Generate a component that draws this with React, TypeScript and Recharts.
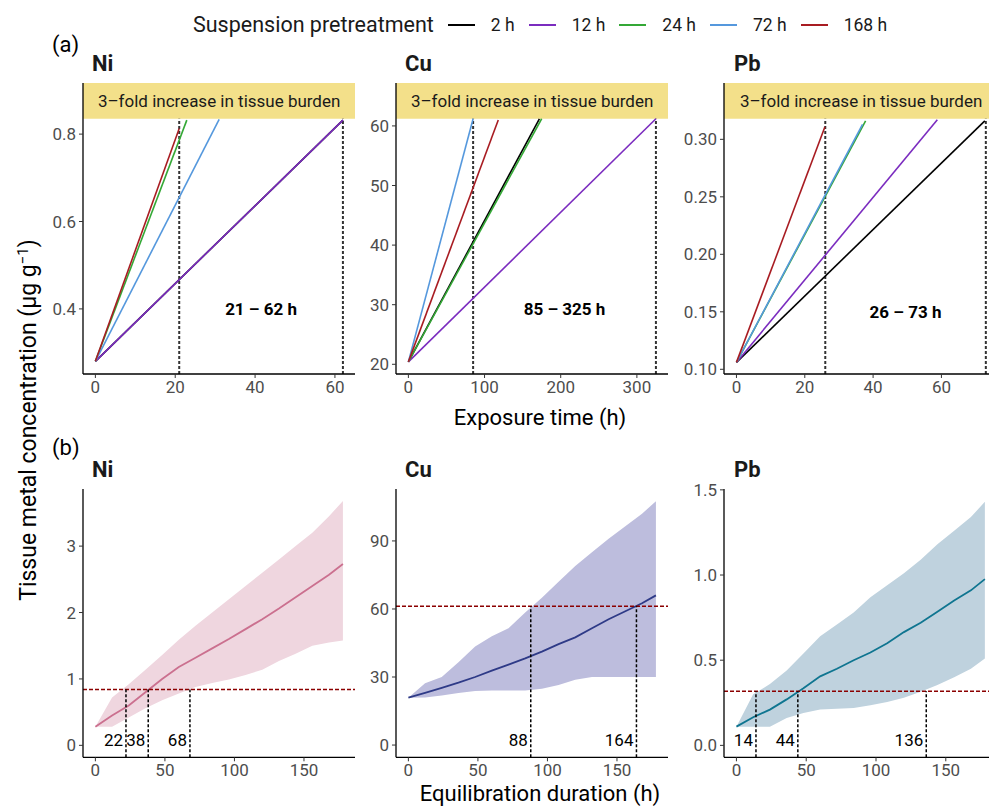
import React from 'react';
import { ComposedChart, Line, Area, XAxis, YAxis, ReferenceLine, ReferenceArea, ReferenceDot } from 'recharts';

const pretreatments = ['2 h', '12 h', '24 h', '72 h', '168 h'];
const pretreatmentColors = ['#000000', '#7B2CBF', '#34A836', '#5598DD', '#A81C22'];

// (a) exposure time to reach a 3-fold tissue burden, per pretreatment
const niStart = 0.28;
const niEndTime = [62, 62, 22.9, 31, 21];
const niEndConc = [0.832, 0.832, 0.832, 0.834, 0.813];
const niRange = [21, 62];

const cuStart = 20.4;
const cuEndTime = [172, 325, 175, 85, 118];
const cuEndConc = [61.2, 61.2, 61.2, 61.2, 61.0];
const cuRange = [85, 325];

const pbStart = 0.106;
const pbEndTime = [72.7, 58.8, 37.8, 36.9, 25.9];
const pbEndConc = [0.316, 0.317, 0.316, 0.313, 0.311];
const pbRange = [26, 73];

// 3-fold thresholds
const niThreshold = 0.835;
const cuThreshold = 61.2;
const pbThreshold = 0.318;

// (b) equilibration duration simulations
const equilTime = [0, 12, 24, 36, 48, 60, 72, 84, 96, 108, 120, 132, 144, 156, 168, 178];

const niMean = [0.28, 0.45, 0.6, 0.8, 1.0, 1.18, 1.32, 1.46, 1.6, 1.75, 1.9, 2.06, 2.23, 2.4, 2.57, 2.73];
const niLower = [0.28, 0.28, 0.42, 0.56, 0.68, 0.78, 0.88, 0.94, 0.99, 1.06, 1.14, 1.27, 1.38, 1.5, 1.55, 1.58];
const niUpper = [0.28, 0.72, 0.92, 1.14, 1.36, 1.59, 1.8, 2.0, 2.2, 2.4, 2.6, 2.8, 3.0, 3.2, 3.45, 3.68];
const niCross = [22, 38, 68];

const cuMean = [20.9, 23.0, 25.2, 27.5, 30.0, 32.8, 35.5, 38.2, 41.2, 44.5, 47.5, 51.5, 55.5, 59.0, 62.5, 66.0];
const cuLower = [20.9, 21.0, 21.8, 23.0, 23.8, 24.0, 24.0, 24.0, 24.8, 26.5, 28.8, 30.0, 30.0, 30.0, 30.0, 30.0];
const cuUpper = [20.9, 27.2, 30.0, 36.5, 43.5, 48.0, 51.5, 58.5, 65.0, 72.0, 79.0, 85.0, 91.0, 96.5, 102.0, 107.5];
const cuCross = [88, 164];

const pbMean = [0.11, 0.165, 0.21, 0.27, 0.335, 0.405, 0.45, 0.5, 0.545, 0.6, 0.665, 0.72, 0.785, 0.85, 0.91, 0.976];
const pbLower = [0.11, 0.11, 0.11, 0.16, 0.19, 0.21, 0.215, 0.22, 0.235, 0.255, 0.28, 0.315, 0.355, 0.4, 0.45, 0.51];
const pbUpper = [0.11, 0.3, 0.36, 0.44, 0.54, 0.64, 0.71, 0.78, 0.87, 0.94, 1.01, 1.09, 1.18, 1.26, 1.34, 1.43];
const pbCross = [14, 44, 136];

const FONT = 'Roboto, sans-serif';
const Y_W = 60;
const X_H = 32;
const M_TOP = 12;
const tickStyle = { fill: '#4D4D4D', fontSize: 17, fontFamily: FONT };

const buildLines = (start: number, endTime: number[], endConc: number[]) =>
  endTime.map((t, i) => [
    { x: 0, y: start },
    { x: t, y: endConc[i] },
  ]);

const buildBand = (mean: number[], lower: number[], upper: number[]) =>
  equilTime.map((t, i) => ({ x: t, y: mean[i], band: [lower[i], upper[i]] }));

type PanelProps = {
  left: number;
  top: number;
  plotW: number;
  plotH: number;
  xDomain: [number, number];
  yDomain: [number, number];
  xTicks: number[];
  yTicks: number[];
  yFmt: (v: number) => string;
  data?: any[];
  children: React.ReactNode;
};

const Panel = ({ left, top, plotW, plotH, xDomain, yDomain, xTicks, yTicks, yFmt, data, children }: PanelProps) => (
  <div style={{ position: 'absolute', left: left - Y_W, top: top - M_TOP }}>
    <ComposedChart width={Y_W + plotW} height={M_TOP + plotH + X_H} data={data} margin={{ top: M_TOP, right: 0, bottom: 0, left: 0 }}>
      <XAxis
        type="number"
        dataKey="x"
        domain={xDomain}
        ticks={xTicks}
        interval={0}
        allowDataOverflow
        height={X_H}
        tick={tickStyle}
        tickSize={4}
        tickMargin={3}
        axisLine={{ stroke: '#000', strokeWidth: 1.3 }}
        tickLine={{ stroke: '#333', strokeWidth: 1 }}
      />
      <YAxis
        type="number"
        domain={yDomain}
        ticks={yTicks}
        interval={0}
        allowDataOverflow
        width={Y_W}
        tick={tickStyle}
        tickFormatter={yFmt}
        tickSize={4}
        tickMargin={3}
        axisLine={{ stroke: '#000', strokeWidth: 1.3 }}
        tickLine={{ stroke: '#333', strokeWidth: 1 }}
      />
      {children}
    </ComposedChart>
  </div>
);

const exposureChildren = (
  start: number,
  endTime: number[],
  endConc: number[],
  range: number[],
  threshold: number,
  yDomain: [number, number],
  labelY: number
) => {
  const lines = buildLines(start, endTime, endConc);
  return [
    <ReferenceArea
      key="band"
      y1={threshold}
      y2={yDomain[1]}
      fill="#F3E08A"
      fillOpacity={1}
      stroke="none"
      ifOverflow="visible"
      label={{ value: '3–fold increase in tissue burden', position: 'center', fill: '#1A1A1A', fontSize: 17, fontFamily: FONT }}
    />,
    ...range.map((t) => (
      <ReferenceLine
        key={'v' + t}
        segment={[{ x: t, y: yDomain[0] }, { x: t, y: threshold }]}
        stroke="#333"
        strokeWidth={2}
        strokeDasharray="3 2"
        ifOverflow="visible"
      />
    )),
    ...lines.map((d, i) => (
      <Line
        key={pretreatments[i]}
        data={d}
        dataKey="y"
        type="linear"
        stroke={pretreatmentColors[i]}
        strokeWidth={1.6}
        dot={false}
        isAnimationActive={false}
      />
    )),
    <ReferenceDot
      key="rl"
      x={(range[0] + range[1]) / 2}
      y={labelY}
      r={0}
      fill="none"
      stroke="none"
      ifOverflow="visible"
      label={{ value: `${range[0]} – ${range[1]} h`, position: 'center', fill: '#000', fontSize: 17, fontWeight: 700, fontFamily: FONT }}
    />,
  ];
};

const equilChildren = (
  fill: string,
  stroke: string,
  cross: number[],
  threshold: number,
  yDomain: [number, number]
) => [
  <Area
    key="ribbon"
    dataKey="band"
    type="linear"
    fill={fill}
    fillOpacity={1}
    stroke="none"
    isAnimationActive={false}
  />,
  <Line key="mean" dataKey="y" type="linear" stroke={stroke} strokeWidth={1.8} dot={false} isAnimationActive={false} />,
  <ReferenceLine key="thr" y={threshold} stroke="#8B0000" strokeWidth={1.5} strokeDasharray="4 2" />,
  ...cross.map((t) => (
    <ReferenceLine
      key={'v' + t}
      segment={[{ x: t, y: yDomain[0] }, { x: t, y: threshold }]}
      stroke="#000"
      strokeWidth={1.5}
      strokeDasharray="3 2"
      ifOverflow="visible"
    />
  )),
  ...cross.map((t) => (
    <ReferenceDot
      key={'l' + t}
      x={t}
      y={yDomain[0]}
      r={0}
      fill="none"
      stroke="none"
      ifOverflow="visible"
      label={{
        content: (p: any) => (
          <text x={p.viewBox.x - 3} y={p.viewBox.y - 11} textAnchor="end" fill="#000" fontSize={17} fontFamily={FONT}>
            {t}
          </text>
        ),
      }}
    />
  )),
];

const Title = ({ text, left, top }: { text: string; left: number; top: number }) => (
  <div style={{ position: 'absolute', left, top, fontSize: 22, lineHeight: '22px', fontWeight: 700, color: '#1A1A1A' }}>{text}</div>
);

const Legend = () => (
  <div style={{ position: 'absolute', left: 193, top: 13, display: 'flex', alignItems: 'center', fontSize: 17.5, color: '#1A1A1A', lineHeight: '24px' }}>
    <span style={{ fontSize: 21.5, marginRight: 14 }}>Suspension pretreatment</span>
    {pretreatments.map((p, i) => (
      <span key={p} style={{ display: 'flex', alignItems: 'center', marginRight: 14 }}>
        <svg width={27} height={4} style={{ marginRight: 16 }}>
          <line x1={0} y1={2} x2={27} y2={2} stroke={pretreatmentColors[i]} strokeWidth={2} />
        </svg>
        <span>{p}</span>
      </span>
    ))}
  </div>
);

const topRow = { top: 83, plotH: 291 };
const bottomRow = { top: 489, plotH: 268.3 };
const equilTicks = [0, 50, 100, 150];

export default function App() {
  const niExp: [number, number] = [0.251, 0.917];
  const cuExp: [number, number] = [18.37, 67.2];
  const pbExp: [number, number] = [0.0959, 0.349];
  const niEq: [number, number] = [-0.18, 3.86];
  const cuEq: [number, number] = [-5.4, 112.9];
  const pbEq: [number, number] = [-0.07, 1.505];

  return (
    <div style={{ position: 'absolute', left: 0, top: 0, width: 989, height: 807, overflow: 'hidden', background: '#fff', fontFamily: FONT }}>
      <Legend />
      <div style={{ position: 'absolute', left: 52, top: 34, fontSize: 22, lineHeight: '22px', color: '#000' }}>(a)</div>
      <div style={{ position: 'absolute', left: 52, top: 437, fontSize: 22, lineHeight: '22px', color: '#000' }}>(b)</div>

      <Title text="Ni" left={92} top={topRow.top - 30} />
      <Title text="Cu" left={405} top={topRow.top - 30} />
      <Title text="Pb" left={734} top={topRow.top - 30} />
      <Title text="Ni" left={92} top={bottomRow.top - 30} />
      <Title text="Cu" left={405} top={bottomRow.top - 30} />
      <Title text="Pb" left={734} top={bottomRow.top - 30} />

      <Panel left={82.7} top={topRow.top} plotW={272.3} plotH={topRow.plotH} xDomain={[-3.1, 65.1]} yDomain={niExp}
        xTicks={[0, 20, 40, 60]} yTicks={[0.4, 0.6, 0.8]} yFmt={(v) => v.toFixed(1)}>
        {exposureChildren(niStart, niEndTime, niEndConc, niRange, niThreshold, niExp, 0.4)}
      </Panel>
      <Panel left={396} top={topRow.top} plotW={272.3} plotH={topRow.plotH} xDomain={[-16.25, 341.25]} yDomain={cuExp}
        xTicks={[0, 100, 200, 300]} yTicks={[20, 30, 40, 50, 60]} yFmt={(v) => String(v)}>
        {exposureChildren(cuStart, cuEndTime, cuEndConc, cuRange, cuThreshold, cuExp, 29.3)}
      </Panel>
      <Panel left={724.3} top={topRow.top} plotW={274.3} plotH={topRow.plotH} xDomain={[-3.65, 76.65]} yDomain={pbExp}
        xTicks={[0, 20, 40, 60]} yTicks={[0.1, 0.15, 0.2, 0.25, 0.3]} yFmt={(v) => v.toFixed(2)}>
        {exposureChildren(pbStart, pbEndTime, pbEndConc, pbRange, pbThreshold, pbExp, 0.15)}
      </Panel>

      <Panel left={82.7} top={bottomRow.top} plotW={272.3} plotH={bottomRow.plotH} xDomain={[-8.9, 186.9]} yDomain={niEq}
        xTicks={equilTicks} yTicks={[0, 1, 2, 3]} yFmt={(v) => String(v)} data={buildBand(niMean, niLower, niUpper)}>
        {equilChildren('#EFD6DF', '#CB708F', niCross, 0.84, niEq)}
      </Panel>
      <Panel left={396} top={bottomRow.top} plotW={272.3} plotH={bottomRow.plotH} xDomain={[-8.9, 186.9]} yDomain={cuEq}
        xTicks={equilTicks} yTicks={[0, 30, 60, 90]} yFmt={(v) => String(v)} data={buildBand(cuMean, cuLower, cuUpper)}>
        {equilChildren('#BDBDDD', '#2E3A87', cuCross, cuThreshold, cuEq)}
      </Panel>
      <Panel left={724.3} top={bottomRow.top} plotW={273.3} plotH={bottomRow.plotH} xDomain={[-8.9, 186.9]} yDomain={pbEq}
        xTicks={equilTicks} yTicks={[0, 0.5, 1, 1.5]} yFmt={(v) => v.toFixed(1)} data={buildBand(pbMean, pbLower, pbUpper)}>
        {equilChildren('#BFD2DE', '#0F7590', pbCross, pbThreshold, pbEq)}
      </Panel>

      <div style={{ position: 'absolute', left: 540, top: 417, transform: 'translate(-50%, -50%)', fontSize: 22, whiteSpace: 'nowrap', color: '#000' }}>
        Exposure time (h)
      </div>
      <div style={{ position: 'absolute', left: 540, top: 794, transform: 'translate(-50%, -50%)', fontSize: 22, lineHeight: '24px', whiteSpace: 'nowrap', color: '#000' }}>
        Equilibration duration (h)
      </div>
      <div style={{ position: 'absolute', left: 28, top: 420, transform: 'translate(-50%, -50%) rotate(-90deg)', fontSize: 23, whiteSpace: 'nowrap', color: '#000' }}>
        Tissue metal concentration (μg g<sup style={{ fontSize: 15 }}>−1</sup>)
      </div>
    </div>
  );
}
